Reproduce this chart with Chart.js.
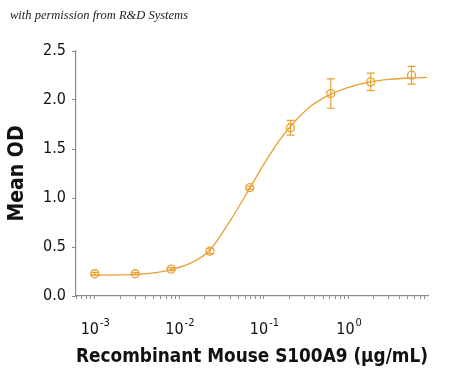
<!DOCTYPE html>
<html>
<head>
<meta charset="utf-8">
<script src="https://cdn.jsdelivr.net/npm/chart.js@4/dist/chart.umd.min.js"></script>
<style>
  body { margin: 0; background: #fff; }
  #wrap { position: relative; width: 450px; height: 379px; }
  #credit { position: absolute; left: 10px; top: 8px; font: italic 12.5px "Liberation Serif", "DejaVu Serif", serif; color: #222; }
</style>
</head>
<body>
<div id="wrap">
  <div id="credit">with permission from R&amp;D Systems</div>
  <canvas id="chart" width="450" height="379"></canvas>
</div>
<script>
// measured points (µg/mL vs mean OD)
const concentrations = [0.001, 0.003, 0.008, 0.023, 0.068, 0.206, 0.617, 1.83, 5.56];
const meanOD = [0.227, 0.227, 0.274, 0.457, 1.105, 1.717, 2.066, 2.185, 2.253];
const errorOD = [0.015, 0.012, 0.015, 0.025, 0.015, 0.075, 0.15, 0.09, 0.09];

// fitted curve
const curveX = [0.0009, 0.002, 0.005, 0.008, 0.014, 0.023, 0.04, 0.068, 0.09, 0.115, 0.15, 0.206, 0.35, 0.617, 1.0, 1.83, 3.0, 5.56, 8.5];
const curveY = [0.213, 0.215, 0.235, 0.27, 0.34, 0.47, 0.77, 1.1, 1.28, 1.43, 1.58, 1.73, 1.93, 2.06, 2.13, 2.185, 2.21, 2.225, 2.23];

const decadeTicks = [0.001, 0.01, 0.1, 1];
const decadeLabels = ["-3", "-2", "-1", "0"];
const yTicks = [0, 0.5, 1, 1.5, 2, 2.5];

const orange = "#E9A033";
const axisGray = "#8a8a8a";
const font = '"Liberation Sans Narrow", "DejaVu Sans Condensed", sans-serif';

const minorTicks = [];
[0.0001, 0.001, 0.01, 0.1, 1].forEach(d => {
  for (let k = 1; k < 10; k++) minorTicks.push(+(d * k).toPrecision(3));
});

const errorBars = {
  id: "errorBars",
  afterDatasetsDraw(chart) {
    const { ctx, scales: { x, y } } = chart;
    ctx.save();
    ctx.strokeStyle = orange;
    ctx.lineWidth = 1.2;
    concentrations.forEach((c, i) => {
      const px = x.getPixelForValue(c);
      const top = y.getPixelForValue(meanOD[i] + errorOD[i]);
      const bot = y.getPixelForValue(meanOD[i] - errorOD[i]);
      ctx.beginPath();
      ctx.moveTo(px, top); ctx.lineTo(px, bot);
      ctx.moveTo(px - 4, top); ctx.lineTo(px + 4, top);
      ctx.moveTo(px - 4, bot); ctx.lineTo(px + 4, bot);
      ctx.stroke();
    });
    ctx.restore();
  }
};

const powerLabels = {
  id: "powerLabels",
  afterDraw(chart) {
    const { ctx, scales: { x } } = chart;
    ctx.save();
    ctx.fillStyle = "#111";
    ctx.textBaseline = "alphabetic";
    decadeTicks.forEach((t, i) => {
      const px = x.getPixelForValue(t);
      ctx.font = "16px " + font;
      const w1 = ctx.measureText("10").width;
      ctx.font = "11px " + font;
      const w2 = ctx.measureText(decadeLabels[i]).width;
      const left = px - (w1 + w2) / 2;
      ctx.font = "16px " + font;
      ctx.textAlign = "left";
      ctx.fillText("10", left, x.bottom - 45);
      ctx.font = "11px " + font;
      ctx.fillText(decadeLabels[i], left + w1 + 1, x.bottom - 53);
    });
    ctx.restore();
  }
};

new Chart(document.getElementById("chart"), {
  type: "line",
  data: {
    datasets: [
      {
        label: "fit",
        data: curveX.map((v, i) => ({ x: v, y: curveY[i] })),
        borderColor: orange,
        borderWidth: 1.3,
        pointRadius: 0,
        cubicInterpolationMode: "monotone",
        fill: false
      },
      {
        label: "Mean OD",
        data: concentrations.map((v, i) => ({ x: v, y: meanOD[i] })),
        showLine: false,
        pointStyle: "circle",
        pointRadius: 4,
        pointBorderWidth: 1.3,
        pointBorderColor: orange,
        pointBackgroundColor: "rgba(0,0,0,0)"
      }
    ]
  },
  options: {
    responsive: false,
    animation: false,
    layout: { padding: { top: 51, right: 22, left: 0, bottom: 0 } },
    plugins: { legend: { display: false }, tooltip: { enabled: false } },
    scales: {
      x: {
        type: "logarithmic",
        min: 0.00064,
        max: 8.7,
        afterBuildTicks: s => { s.ticks = minorTicks.filter(v => v >= s.min && v <= s.max).map(v => ({ value: v })); },
        afterFit: s => { s.height = 83; },
        border: { color: axisGray, width: 1.2 },
        grid: { drawOnChartArea: false, color: axisGray, tickLength: 3 },
        ticks: { autoSkip: false, maxRotation: 0, callback: () => "" },
        title: {
          display: true,
          text: "Recombinant Mouse S100A9 (\u03bcg/mL)",
          color: "#111",
          font: { family: font, size: 19, weight: "bold" },
          padding: { top: 0, bottom: 11 }
        }
      },
      y: {
        min: 0,
        max: 2.5,
        afterBuildTicks: s => { s.ticks = yTicks.map(v => ({ value: v })); },
        afterFit: s => { s.width = 76; },
        border: { color: axisGray, width: 1.2 },
        grid: { drawOnChartArea: false, color: axisGray, tickLength: 4 },
        ticks: {
          color: "#111",
          padding: 6,
          font: { family: font, size: 16 },
          callback: v => v.toFixed(1)
        },
        title: {
          display: true,
          text: "Mean OD",
          color: "#111",
          font: { family: font, size: 21, weight: "bold" },
          padding: { top: 5, bottom: 0 }
        }
      }
    }
  },
  plugins: [errorBars, powerLabels]
});
</script>
</body>
</html>
